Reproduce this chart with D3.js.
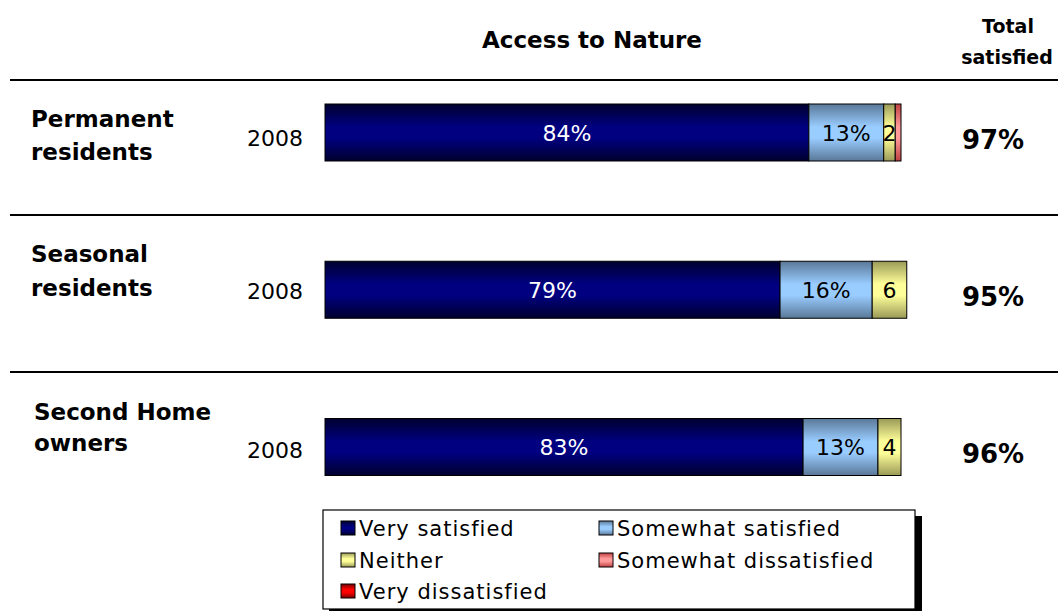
<!DOCTYPE html>
<html>
<head>
<meta charset="utf-8">
<script src="https://cdn.jsdelivr.net/npm/d3@7"></script>
<style>
  html, body { margin: 0; padding: 0; background: #fff; }
  svg { display: block; font-family: "DejaVu Sans", Verdana, sans-serif; }
</style>
</head>
<body>
<svg id="chart" width="1058" height="611"></svg>
<script>
// Survey groups (label lines) and the survey year for each bar
const groupLines = [["Permanent", "residents"], ["Seasonal", "residents"], ["Second Home", "owners"]];
const groups = ["Permanent residents", "Seasonal residents", "Second Home owners"];
const years = ["2008", "2008", "2008"];

// Satisfaction shares (%) per group
const verySatisfied = [84, 79, 83];
const somewhatSatisfied = [13, 16, 13];
const neither = [2, 6, 4];
const somewhatDissatisfied = [1, 0, 0];
const veryDissatisfied = [0, 0, 0];
const totalSatisfied = [97, 95, 96];

const seriesNames = ["Very satisfied", "Somewhat satisfied", "Neither", "Somewhat dissatisfied", "Very dissatisfied"];
const seriesValues = [verySatisfied, somewhatSatisfied, neither, somewhatDissatisfied, veryDissatisfied];

// fill gradients: [edge colour, centre colour]
const palette = [
  ["#00002e", "#000080"],
  ["#5a7898", "#99ccff"],
  ["#9a9a58", "#ffff99"],
  ["#c04040", "#ff9a9a"],
  ["#7a0000", "#ff0000"]
];
const labelColors = ["#ffffff", "#000000", "#000000", "#000000", "#000000"];

const svg = d3.select("#chart");
const defs = svg.append("defs");
palette.forEach((c, i) => {
  const g = defs.append("linearGradient").attr("id", "grad" + i)
    .attr("x1", 0).attr("y1", 0).attr("x2", 0).attr("y2", 1);
  g.append("stop").attr("offset", "0%").attr("stop-color", c[0]);
  g.append("stop").attr("offset", "40%").attr("stop-color", c[1]);
  g.append("stop").attr("offset", "60%").attr("stop-color", c[1]);
  g.append("stop").attr("offset", "100%").attr("stop-color", c[0]);
});

// table rows for stacking
const rows = groups.map((g, i) => {
  const r = { group: g };
  seriesNames.forEach((s, k) => r[s] = seriesValues[k][i]);
  return r;
});
const stacked = d3.stack().keys(seriesNames)(rows);

const x = d3.scaleLinear().domain([0, 100]).range([325, 901]);
const y = d3.scalePoint().domain(groups).range([132.5, 447]);
const barH = 57;

// titles
svg.append("text").attr("x", 592).attr("y", 48).attr("text-anchor", "middle")
  .attr("font-weight", "bold").attr("font-size", 23).text("Access to Nature");
svg.append("text").attr("x", 1008).attr("y", 33).attr("text-anchor", "middle")
  .attr("font-weight", "bold").attr("font-size", 19).text("Total");
svg.append("text").attr("x", 1007).attr("y", 64).attr("text-anchor", "middle")
  .attr("font-weight", "bold").attr("font-size", 19).text("satisfied");

// separator lines above each group
const sepY = [80, 215, 372];
svg.selectAll("line.sep").data(sepY).join("line").attr("class", "sep")
  .attr("x1", 10).attr("x2", 1058).attr("y1", d => d).attr("y2", d => d)
  .attr("stroke", "#000").attr("stroke-width", 2);

// group labels
const firstLineShift = [-6, -28, -27];
const lineGap = [33, 34, 31];
groups.forEach((g, i) => {
  const t = svg.append("text").attr("font-weight", "bold").attr("font-size", 23);
  groupLines[i].forEach((ln, k) => {
    t.append("tspan").attr("x", i === 2 ? 34 : 31)
      .attr("y", y(g) + firstLineShift[i] + k * lineGap[i]).text(ln);
  });
});

// year labels
const yearShift = [13, 9, 11];
svg.selectAll("text.year").data(groups).join("text").attr("class", "year")
  .attr("x", 303).attr("y", (d, i) => y(d) + yearShift[i])
  .attr("text-anchor", "end").attr("font-size", 22).text((d, i) => years[i]);

// stacked segments
const layer = svg.selectAll("g.layer").data(stacked).join("g").attr("class", "layer");
layer.selectAll("rect").data((s, k) => s.map(d => ({ d, k })).filter(o => o.d[1] > o.d[0]))
  .join("rect")
  .attr("x", o => x(o.d[0]))
  .attr("y", o => y(o.d.data.group) - barH / 2)
  .attr("width", o => x(o.d[1]) - x(o.d[0]))
  .attr("height", barH)
  .attr("fill", o => `url(#grad${o.k})`)
  .attr("stroke", "#000").attr("stroke-width", 1);

// segment value labels
const fmt = v => v >= 10 ? v + "%" : String(v);
layer.selectAll("text").data((s, k) => s.map(d => ({ d, k })).filter(o => o.d[1] - o.d[0] >= 2))
  .join("text")
  .attr("x", o => (x(o.d[0]) + x(o.d[1])) / 2)
  .attr("y", o => y(o.d.data.group) + 8)
  .attr("text-anchor", "middle").attr("font-size", 22)
  .attr("fill", o => labelColors[o.k])
  .text(o => fmt(o.d[1] - o.d[0]));

// total satisfied
svg.selectAll("text.total").data(groups).join("text").attr("class", "total")
  .attr("x", 993).attr("y", d => y(d) + 16).attr("text-anchor", "middle")
  .attr("font-weight", "bold").attr("font-size", 26)
  .text((d, i) => totalSatisfied[i] + "%");

// legend
const lg = svg.append("g");
lg.append("rect").attr("x", 329).attr("y", 516).attr("width", 593).attr("height", 100).attr("fill", "#000");
lg.append("rect").attr("x", 323).attr("y", 510).attr("width", 592).attr("height", 99)
  .attr("fill", "#fff").attr("stroke", "#000").attr("stroke-width", 1.2);
const legendPos = [[341, 528], [599, 528], [341, 560], [599, 560], [341, 591]];
const item = lg.selectAll("g.item").data(seriesNames).join("g").attr("class", "item")
  .attr("transform", (d, i) => `translate(${legendPos[i][0]},${legendPos[i][1]})`);
item.append("rect").attr("x", 0).attr("y", -7).attr("width", 14).attr("height", 14)
  .attr("fill", (d, i) => `url(#grad${i})`).attr("stroke", "#000").attr("stroke-width", 1);
item.append("text").attr("x", 18).attr("y", 7.5).attr("font-size", 21)
  .attr("letter-spacing", 1).text(d => d);
</script>
</body>
</html>
